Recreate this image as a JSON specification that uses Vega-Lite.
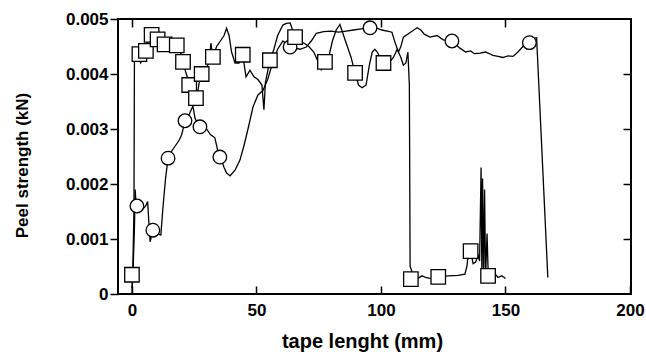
{
  "$schema": "https://vega.github.io/schema/vega-lite/v6.json",
  "width": 513,
  "height": 275,
  "autosize": {"type": "none"},
  "padding": {"left": 118, "top": 19, "right": 15, "bottom": 58},
  "background": "white",
  "config": {
    "view": {"stroke": "black", "strokeWidth": 2},
    "font": "Liberation Sans",
    "axis": {"grid": false, "domain": false, "tickColor": "black", "tickWidth": 1.5, "labelColor": "black", "titleColor": "black", "labelFont": "Liberation Sans", "titleFont": "Liberation Sans", "labelFontWeight": "bold", "titleFontWeight": "bold", "labelFontSize": 17, "labelFlush": false, "labelOverlap": false}
  },
  "datasets": {
    "a": [
      {"x": 0, "y": 0.0001}, {"x": 0.3, "y": 0.00035}, {"x": 0.8, "y": 0.0015}, {"x": 1.0, "y": 0.0043}, {"x": 2, "y": 0.00435},
      {"x": 3.5, "y": 0.0042}, {"x": 4.5, "y": 0.0043}, {"x": 5.5, "y": 0.00444}, {"x": 7, "y": 0.0047}, {"x": 8, "y": 0.00475},
      {"x": 9, "y": 0.0047}, {"x": 10, "y": 0.00465}, {"x": 11.5, "y": 0.00462}, {"x": 13, "y": 0.00458}, {"x": 15, "y": 0.00455},
      {"x": 17, "y": 0.00452}, {"x": 18.5, "y": 0.0045}, {"x": 19.5, "y": 0.0044}, {"x": 20.5, "y": 0.00422}, {"x": 21.5, "y": 0.00405},
      {"x": 22.5, "y": 0.0039}, {"x": 23.5, "y": 0.0037}, {"x": 24.5, "y": 0.0036}, {"x": 25.7, "y": 0.00356}, {"x": 26.5, "y": 0.0037},
      {"x": 27.2, "y": 0.0039}, {"x": 28, "y": 0.004}, {"x": 29.5, "y": 0.0041}, {"x": 31, "y": 0.0042}, {"x": 31.7, "y": 0.00456},
      {"x": 32.5, "y": 0.0043}, {"x": 34, "y": 0.0045}, {"x": 35.5, "y": 0.0046}, {"x": 37, "y": 0.0047}, {"x": 38, "y": 0.00483},
      {"x": 39, "y": 0.0047}, {"x": 40, "y": 0.0044}, {"x": 41.4, "y": 0.0042}, {"x": 43, "y": 0.0042}, {"x": 44.5, "y": 0.00435},
      {"x": 45.8, "y": 0.00395}, {"x": 47.4, "y": 0.00407}, {"x": 49, "y": 0.00395}, {"x": 50.6, "y": 0.0039}, {"x": 52.2, "y": 0.0038},
      {"x": 53, "y": 0.00335}, {"x": 53.6, "y": 0.00385}, {"x": 54.6, "y": 0.00407}, {"x": 55.4, "y": 0.00425}, {"x": 57, "y": 0.00445},
      {"x": 58.5, "y": 0.0047}, {"x": 60.6, "y": 0.00489}, {"x": 62, "y": 0.00492}, {"x": 63.5, "y": 0.00493}, {"x": 64.5, "y": 0.0048},
      {"x": 65.5, "y": 0.00467}, {"x": 67.5, "y": 0.0046}, {"x": 69.5, "y": 0.00455}, {"x": 71, "y": 0.0045}, {"x": 73, "y": 0.0044},
      {"x": 75, "y": 0.0042}, {"x": 76, "y": 0.00408}, {"x": 77.5, "y": 0.00422}, {"x": 79, "y": 0.0043}, {"x": 80.5, "y": 0.0046},
      {"x": 82, "y": 0.0048}, {"x": 83.5, "y": 0.0049}, {"x": 85, "y": 0.0047}, {"x": 86.5, "y": 0.0045}, {"x": 88, "y": 0.0043},
      {"x": 89.6, "y": 0.00402}, {"x": 91, "y": 0.0038}, {"x": 92.4, "y": 0.00375}, {"x": 94, "y": 0.0038}, {"x": 95.5, "y": 0.0042},
      {"x": 96.5, "y": 0.0044}, {"x": 97.5, "y": 0.00445}, {"x": 98.5, "y": 0.0044}, {"x": 100.8, "y": 0.0042}, {"x": 103, "y": 0.0042},
      {"x": 105, "y": 0.0043}, {"x": 106.5, "y": 0.00445}, {"x": 108, "y": 0.0043}, {"x": 109, "y": 0.00416}, {"x": 110, "y": 0.0042},
      {"x": 110.8, "y": 0.0044}, {"x": 111.4, "y": 0.0038}, {"x": 111.7, "y": 0.0005}, {"x": 112.2, "y": 0.00044}, {"x": 113, "y": 0.00027},
      {"x": 115, "y": 0.00029}, {"x": 116.5, "y": 0.00033}, {"x": 118, "y": 0.0003}, {"x": 120, "y": 0.00028}, {"x": 123, "y": 0.00031},
      {"x": 127, "y": 0.00033}, {"x": 131, "y": 0.00034}, {"x": 133.7, "y": 0.00036}, {"x": 134.5, "y": 0.0005}, {"x": 135, "y": 0.0007},
      {"x": 136, "y": 0.00078}, {"x": 137, "y": 0.00055}, {"x": 138, "y": 0.00058}, {"x": 139, "y": 0.0007}, {"x": 139.6, "y": 0.0006},
      {"x": 140.2, "y": 0.0023}, {"x": 140.5, "y": 0.0004}, {"x": 140.8, "y": 0.0021}, {"x": 141.2, "y": 0.0003}, {"x": 141.6, "y": 0.0019},
      {"x": 142, "y": 0.0003}, {"x": 142.6, "y": 0.0011}, {"x": 143.1, "y": 0.0003}, {"x": 144, "y": 0.00035}, {"x": 145.5, "y": 0.00038},
      {"x": 147, "y": 0.0003}, {"x": 148.5, "y": 0.00033}, {"x": 150, "y": 0.00028}
    ],
    "b": [
      {"x": 0, "y": 0}, {"x": 0.5, "y": 0.0005}, {"x": 1.0, "y": 0.0012}, {"x": 1.3, "y": 0.0019}, {"x": 1.7, "y": 0.0016},
      {"x": 2.2, "y": 0.0016}, {"x": 3.5, "y": 0.00152}, {"x": 4.5, "y": 0.00155}, {"x": 5.5, "y": 0.0016}, {"x": 6.3, "y": 0.00168},
      {"x": 6.8, "y": 0.0013}, {"x": 7.3, "y": 0.00095}, {"x": 8.4, "y": 0.00116}, {"x": 10, "y": 0.0011}, {"x": 11.6, "y": 0.00107},
      {"x": 12.5, "y": 0.0016}, {"x": 13.5, "y": 0.0021}, {"x": 14.5, "y": 0.00247}, {"x": 16, "y": 0.0026}, {"x": 17.5, "y": 0.0027},
      {"x": 19, "y": 0.0028}, {"x": 20, "y": 0.0029}, {"x": 21.3, "y": 0.00315}, {"x": 22.5, "y": 0.0032}, {"x": 23.3, "y": 0.0033},
      {"x": 24.5, "y": 0.00342}, {"x": 25.3, "y": 0.0032}, {"x": 26.3, "y": 0.0031}, {"x": 27.3, "y": 0.00304}, {"x": 28.5, "y": 0.0031},
      {"x": 30, "y": 0.003}, {"x": 31.5, "y": 0.0029}, {"x": 33.3, "y": 0.00284}, {"x": 34.5, "y": 0.0026}, {"x": 35.5, "y": 0.00249},
      {"x": 37, "y": 0.0023}, {"x": 38, "y": 0.0022}, {"x": 39.4, "y": 0.00215}, {"x": 41.4, "y": 0.00225}, {"x": 43.4, "y": 0.00244},
      {"x": 45, "y": 0.0027}, {"x": 46.6, "y": 0.003}, {"x": 48.6, "y": 0.0034}, {"x": 50.6, "y": 0.00362}, {"x": 52.6, "y": 0.0037},
      {"x": 54.5, "y": 0.0039}, {"x": 56.6, "y": 0.00422}, {"x": 58.5, "y": 0.00445}, {"x": 60.6, "y": 0.0046}, {"x": 62, "y": 0.00455},
      {"x": 63.5, "y": 0.00449}, {"x": 65.5, "y": 0.00447}, {"x": 67.5, "y": 0.00445}, {"x": 70, "y": 0.00449}, {"x": 72, "y": 0.0046},
      {"x": 74, "y": 0.00474}, {"x": 77, "y": 0.00477}, {"x": 80, "y": 0.00478}, {"x": 83, "y": 0.00476}, {"x": 86, "y": 0.00478},
      {"x": 89, "y": 0.0048}, {"x": 92, "y": 0.00482}, {"x": 95.6, "y": 0.00484}, {"x": 98, "y": 0.00484}, {"x": 100.4, "y": 0.0048},
      {"x": 102.5, "y": 0.00478}, {"x": 104.4, "y": 0.00476}, {"x": 105.6, "y": 0.00458}, {"x": 107, "y": 0.0044}, {"x": 108, "y": 0.0045},
      {"x": 109, "y": 0.00467}, {"x": 111.6, "y": 0.00475}, {"x": 114.5, "y": 0.00484}, {"x": 116, "y": 0.0048}, {"x": 117.5, "y": 0.00472},
      {"x": 119.7, "y": 0.00467}, {"x": 122.5, "y": 0.0047}, {"x": 125, "y": 0.00462}, {"x": 128.5, "y": 0.0046}, {"x": 131.7, "y": 0.00447},
      {"x": 134, "y": 0.0044}, {"x": 136, "y": 0.00442}, {"x": 137.5, "y": 0.00437}, {"x": 139.8, "y": 0.00438}, {"x": 142, "y": 0.0044},
      {"x": 145, "y": 0.00434}, {"x": 147, "y": 0.00432}, {"x": 149, "y": 0.0043}, {"x": 151, "y": 0.00433}, {"x": 153, "y": 0.00432},
      {"x": 155, "y": 0.0044}, {"x": 157, "y": 0.0045}, {"x": 159.4, "y": 0.0046}, {"x": 161, "y": 0.00465}, {"x": 162.5, "y": 0.00466},
      {"x": 167, "y": 0.0003}
    ],
    "sq": [
      {"x": 0, "y": 0.00035}, {"x": 3, "y": 0.00436}, {"x": 5.6, "y": 0.00442}, {"x": 7.9, "y": 0.00471}, {"x": 10.3, "y": 0.00463},
      {"x": 13.1, "y": 0.00454}, {"x": 18, "y": 0.00452}, {"x": 20.5, "y": 0.00422}, {"x": 23, "y": 0.0038}, {"x": 25.7, "y": 0.00356},
      {"x": 28, "y": 0.004}, {"x": 32.5, "y": 0.00431}, {"x": 44.5, "y": 0.00435}, {"x": 55.4, "y": 0.00425}, {"x": 65.5, "y": 0.00467},
      {"x": 77.5, "y": 0.00422}, {"x": 89.6, "y": 0.00402}, {"x": 101, "y": 0.0042}, {"x": 112, "y": 0.00027}, {"x": 123, "y": 0.00031},
      {"x": 136, "y": 0.00078}, {"x": 143, "y": 0.00033}
    ],
    "ci": [
      {"x": 2, "y": 0.0016}, {"x": 8.4, "y": 0.00116}, {"x": 14.5, "y": 0.00247}, {"x": 21.3, "y": 0.00315}, {"x": 27.3, "y": 0.00304},
      {"x": 35.3, "y": 0.00249}, {"x": 63.5, "y": 0.00449}, {"x": 95.6, "y": 0.00484}, {"x": 128.5, "y": 0.0046}, {"x": 159.6, "y": 0.00457}
    ]
  },
  "resolve": {"scale": {"x": "shared", "y": "shared"}, "axis": {"x": "independent", "y": "independent"}},
  "layer": [
    {
      "data": {"name": "a"},
      "mark": {"type": "line", "color": "black", "strokeWidth": 1.3},
      "encoding": {
        "x": {"field": "x", "type": "quantitative", "scale": {"domain": [-5.6, 200.4], "nice": false, "zero": false},
          "axis": {"orient": "bottom", "values": [0, 50, 100, 150, 200], "tickSize": -8, "labelPadding": 16, "title": "tape lenght (mm)", "titleFontSize": 20, "titleX": 244, "titleY": 53, "titleBaseline": "alphabetic", "titleAlign": "center", "titleAnchor": null}},
        "y": {"field": "y", "type": "quantitative", "scale": {"domain": [0, 0.005], "nice": false},
          "axis": {"orient": "left", "values": [0, 0.001, 0.002, 0.003, 0.004, 0.005], "format": "~g", "tickSize": 8, "labelPadding": 2, "title": "Peel strength (kN)", "titleFontSize": 17, "titleAngle": 270, "titleX": -91, "titleY": 146, "titleBaseline": "alphabetic", "titleAlign": "center", "titleAnchor": null}}
      }
    },
    {
      "data": {"name": "b"},
      "mark": {"type": "line", "color": "black", "strokeWidth": 1.3},
      "encoding": {
        "x": {"field": "x", "type": "quantitative",
          "axis": {"orient": "top", "values": [0, 50, 100, 150], "tickSize": -8, "labels": false, "title": null}},
        "y": {"field": "y", "type": "quantitative",
          "axis": {"orient": "right", "values": [0.001, 0.002, 0.003, 0.004], "tickSize": -8, "labels": false, "title": null}}
      }
    },
    {
      "data": {"name": "ci"},
      "mark": {"type": "point", "shape": "circle", "filled": true, "fill": "white", "stroke": "black", "strokeWidth": 1.3, "size": 185, "opacity": 1},
      "encoding": {
        "x": {"field": "x", "type": "quantitative", "axis": null},
        "y": {"field": "y", "type": "quantitative", "axis": null}
      }
    },
    {
      "data": {"name": "sq"},
      "mark": {"type": "point", "shape": "square", "filled": true, "fill": "white", "stroke": "black", "strokeWidth": 1.3, "size": 210, "opacity": 1},
      "encoding": {
        "x": {"field": "x", "type": "quantitative", "axis": null},
        "y": {"field": "y", "type": "quantitative", "axis": null}
      }
    }
  ]
}
